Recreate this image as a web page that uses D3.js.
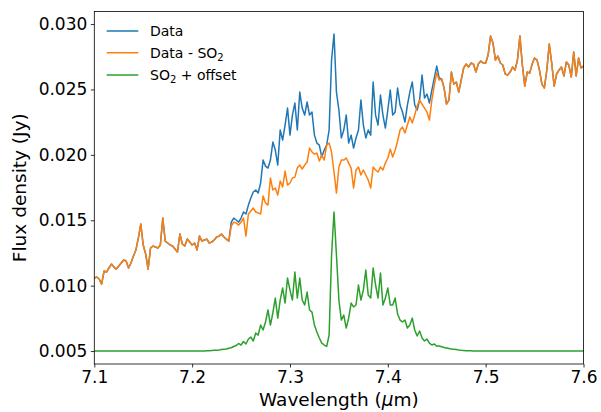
<!DOCTYPE html>
<html>
<head>
<meta charset="utf-8">
<script src="https://cdn.jsdelivr.net/npm/d3@7"></script>
<style>
html,body{margin:0;padding:0;background:#fff;}
svg{display:block;font-family:"DejaVu Sans",sans-serif;}
</style>
</head>
<body>
<svg id="chart" width="601" height="412"></svg>
<script>
// Wavelength grid (µm), uniform sampling of the spectrum
const wavelength = d3.range(201).map(i => +(7.1 + i * 0.0025).toFixed(4));

// Data (Jy)
const data = [
0.01058,0.01066,0.01051,0.01012,0.01112,0.01104,0.01135,0.01165,0.01142,0.01127,
0.01150,0.01173,0.01196,0.01188,0.01135,0.01173,0.01226,0.01272,0.01364,0.01471,
0.01311,0.01242,0.01127,0.01288,0.01303,0.01295,0.01288,0.01311,0.01517,0.01341,
0.01326,0.01311,0.01303,0.01280,0.01257,0.01395,0.01318,0.01303,0.01356,0.01333,
0.01311,0.01326,0.01272,0.01379,0.01341,0.01349,0.01356,0.01326,0.01333,0.01349,
0.01372,0.01379,0.01395,0.01372,0.01356,0.01341,0.01486,0.01517,0.01502,0.01486,
0.01517,0.01563,0.01548,0.01616,0.01670,0.01716,0.01731,0.01708,0.01785,0.01960,
0.01914,0.01899,0.01960,0.02098,0.02037,0.01922,0.02190,0.02113,0.02228,0.02358,
0.02151,0.02304,0.02396,0.02190,0.02480,0.02358,0.02304,0.02404,0.02304,0.02327,
0.02151,0.02090,0.02075,0.01983,0.02037,0.02075,0.02190,0.02725,0.02924,0.02480,
0.02343,0.02129,0.02190,0.02304,0.02090,0.02151,0.02052,0.02129,0.02190,0.02419,
0.02228,0.02129,0.02190,0.02151,0.02557,0.02304,0.02228,0.02457,0.02304,0.02205,
0.02343,0.02495,0.02304,0.02327,0.02511,0.02381,0.02327,0.02251,0.02381,0.02480,
0.02557,0.02381,0.02343,0.02419,0.02610,0.02434,0.02465,0.02396,0.02495,0.02587,
0.02679,0.02587,0.02580,0.02511,0.02388,0.02419,0.02633,0.02541,0.02557,0.02480,
0.02572,0.02664,0.02694,0.02671,0.02702,0.02694,0.02633,0.02694,0.02717,0.02702,
0.02702,0.02763,0.02908,0.02855,0.02725,0.02755,0.02702,0.02687,0.02618,0.02610,
0.02633,0.02671,0.02648,0.02725,0.02908,0.02687,0.02526,0.02633,0.02625,0.02694,
0.02740,0.02725,0.02648,0.02541,0.02511,0.02648,0.02847,0.02702,0.02526,0.02618,
0.02648,0.02671,0.02603,0.02710,0.02687,0.02595,0.02786,0.02603,0.02740,0.02664,
0.02679];

// Data - SO2 (Jy)
const dataMinusSO2 = [
0.01058,0.01066,0.01051,0.01012,0.01112,0.01104,0.01135,0.01165,0.01142,0.01127,
0.01150,0.01173,0.01196,0.01188,0.01135,0.01173,0.01226,0.01272,0.01364,0.01471,
0.01311,0.01242,0.01127,0.01288,0.01303,0.01295,0.01288,0.01311,0.01517,0.01341,
0.01326,0.01311,0.01303,0.01280,0.01257,0.01395,0.01318,0.01303,0.01356,0.01333,
0.01311,0.01326,0.01272,0.01379,0.01341,0.01349,0.01356,0.01326,0.01333,0.01349,
0.01372,0.01379,0.01395,0.01372,0.01356,0.01341,0.01456,0.01486,0.01479,0.01463,
0.01486,0.01517,0.01379,0.01548,0.01570,0.01593,0.01563,0.01555,0.01548,0.01685,
0.01632,0.01616,0.01823,0.01731,0.01746,0.01693,0.01800,0.01754,0.01876,0.01769,
0.01785,0.01823,0.01830,0.01899,0.01922,0.01892,0.01922,0.01945,0.02052,0.02022,
0.02006,0.02014,0.01953,0.01999,0.01960,0.02075,0.02090,0.02022,0.01869,0.01708,
0.01907,0.01960,0.01960,0.01976,0.01937,0.01899,0.01746,0.01884,0.01907,0.01846,
0.01884,0.01846,0.01807,0.01746,0.01907,0.01884,0.01869,0.01907,0.01884,0.01937,
0.01976,0.02044,0.01983,0.02037,0.02106,0.02190,0.02213,0.02167,0.02228,0.02289,
0.02243,0.02304,0.02373,0.02419,0.02388,0.02358,0.02327,0.02266,0.02419,0.02534,
0.02625,0.02572,0.02580,0.02511,0.02388,0.02419,0.02633,0.02541,0.02557,0.02480,
0.02572,0.02664,0.02694,0.02671,0.02702,0.02694,0.02633,0.02694,0.02717,0.02702,
0.02702,0.02763,0.02908,0.02855,0.02725,0.02755,0.02702,0.02687,0.02618,0.02610,
0.02633,0.02671,0.02648,0.02725,0.02908,0.02687,0.02526,0.02633,0.02625,0.02694,
0.02740,0.02725,0.02648,0.02541,0.02511,0.02648,0.02847,0.02702,0.02526,0.02618,
0.02648,0.02671,0.02603,0.02710,0.02687,0.02595,0.02786,0.02603,0.02740,0.02664,
0.02679];

// SO2 + offset (Jy)
const so2PlusOffset = [
0.00500,0.00500,0.00500,0.00500,0.00500,0.00500,0.00500,0.00500,0.00500,0.00500,
0.00500,0.00500,0.00500,0.00500,0.00500,0.00500,0.00500,0.00500,0.00500,0.00500,
0.00500,0.00500,0.00500,0.00500,0.00500,0.00500,0.00500,0.00500,0.00500,0.00500,
0.00500,0.00500,0.00500,0.00500,0.00500,0.00500,0.00500,0.00500,0.00500,0.00500,
0.00500,0.00500,0.00500,0.00500,0.00500,0.00500,0.00502,0.00502,0.00504,0.00506,
0.00507,0.00508,0.00511,0.00513,0.00515,0.00521,0.00525,0.00535,0.00542,0.00558,
0.00546,0.00573,0.00554,0.00592,0.00607,0.00577,0.00638,0.00622,0.00699,0.00661,
0.00722,0.00814,0.00699,0.00791,0.00905,0.00752,0.00890,0.00982,0.00867,0.01058,
0.00966,0.00890,0.01104,0.00905,0.01058,0.00890,0.00852,0.00951,0.00814,0.00798,
0.00699,0.00645,0.00600,0.00561,0.00546,0.00535,0.00622,0.01234,0.01563,0.01234,
0.00890,0.00737,0.00775,0.00676,0.00752,0.00867,0.00837,0.00852,0.01005,0.00890,
0.00966,0.01119,0.00928,0.00905,0.01135,0.01005,0.00905,0.01096,0.00852,0.00905,
0.00982,0.00852,0.00852,0.00905,0.00783,0.00737,0.00722,0.00737,0.00676,0.00699,
0.00752,0.00661,0.00615,0.00653,0.00600,0.00577,0.00592,0.00561,0.00546,0.00554,
0.00538,0.00538,0.00533,0.00527,0.00523,0.00519,0.00515,0.00513,0.00511,0.00508,
0.00506,0.00505,0.00503,0.00502,0.00502,0.00501,0.00500,0.00500,0.00500,0.00500,
0.00500,0.00500,0.00500,0.00500,0.00500,0.00500,0.00500,0.00500,0.00500,0.00500,
0.00500,0.00500,0.00500,0.00500,0.00500,0.00500,0.00500,0.00500,0.00500,0.00500,
0.00500,0.00500,0.00500,0.00500,0.00500,0.00500,0.00500,0.00500,0.00500,0.00500,
0.00500,0.00500,0.00500,0.00500,0.00500,0.00500,0.00500,0.00500,0.00500,0.00500,
0.00500];

const xTicks = [7.1, 7.2, 7.3, 7.4, 7.5, 7.6];
const yTicks = [0.005, 0.010, 0.015, 0.020, 0.025, 0.030];
const seriesNames = ["Data", "Data - SO", "SO"];
const seriesColors = ["#1f77b4", "#ff7f0e", "#2ca02c"];

(function () {
const svg = d3.select("#chart");
const pLeft = 94.3, pRight = 583.5, pTop = 11.5, pBottom = 364;

const x = d3.scaleLinear().domain([7.1, 7.6]).range([pLeft, pRight]);
const y = d3.scaleLinear().domain([0.00401, 0.03096]).range([pBottom, pTop]);

const seriesList = [data, dataMinusSO2, so2PlusOffset];
const line = d3.line().x((d, i) => x(wavelength[i])).y(d => y(d));

const plot = svg.append("g");
seriesList.forEach((s, k) => {
  plot.append("path")
    .datum(s)
    .attr("fill", "none")
    .attr("stroke", seriesColors[k])
    .attr("stroke-width", 1.5)
    .attr("stroke-linejoin", "round")
    .attr("d", line);
});

// Axes
const xAxis = svg.append("g")
  .attr("transform", `translate(0,${pBottom})`)
  .call(d3.axisBottom(x).tickValues(xTicks).tickFormat(d3.format(".1f")).tickSize(3.5).tickPadding(3.5));
const yAxis = svg.append("g")
  .attr("transform", `translate(${pLeft},0)`)
  .call(d3.axisLeft(y).tickValues(yTicks).tickFormat(d3.format(".3f")).tickSize(3.5).tickPadding(3.5));
[xAxis, yAxis].forEach(g => {
  g.select(".domain").remove();
  g.selectAll(".tick line").attr("stroke", "#000").attr("stroke-width", 0.8);
  g.selectAll(".tick text").attr("fill", "#000").style("font-size", "17px").style("font-family", "DejaVu Sans");
});

// Frame
svg.append("rect")
  .attr("x", pLeft).attr("y", pTop)
  .attr("width", pRight - pLeft).attr("height", pBottom - pTop)
  .attr("fill", "none").attr("stroke", "#000").attr("stroke-width", 0.8);

// Axis labels
svg.append("text")
  .attr("x", (pLeft + pRight) / 2).attr("y", 406)
  .attr("text-anchor", "middle")
  .style("font-size", "18.5px")
  .html('Wavelength (<tspan font-style="italic">μ</tspan>m)');
svg.append("text")
  .attr("transform", `translate(26,${(pTop + pBottom) / 2}) rotate(-90)`)
  .attr("text-anchor", "middle")
  .style("font-size", "18.5px")
  .text("Flux density (Jy)");

// Legend
const legend = svg.append("g");
const legendY = [31, 52.7, 75];
seriesColors.forEach((c, k) => {
  legend.append("line")
    .attr("x1", 106.7).attr("x2", 138.3)
    .attr("y1", legendY[k]).attr("y2", legendY[k])
    .attr("stroke", c).attr("stroke-width", 1.5);
  const t = legend.append("text")
    .attr("x", 150).attr("y", legendY[k] + 5)
    .style("font-size", "14px").attr("fill", "#000");
  if (k === 0) {
    t.text(seriesNames[0]);
  } else if (k === 1) {
    t.append("tspan").text(seriesNames[1]);
    t.append("tspan").attr("dy", 3).style("font-size", "10px").text("2");
  } else {
    t.append("tspan").text(seriesNames[2]);
    t.append("tspan").attr("dy", 3).style("font-size", "10px").text("2");
    t.append("tspan").attr("dy", -3).text(" + offset");
  }
});
})();
</script>
</body>
</html>
